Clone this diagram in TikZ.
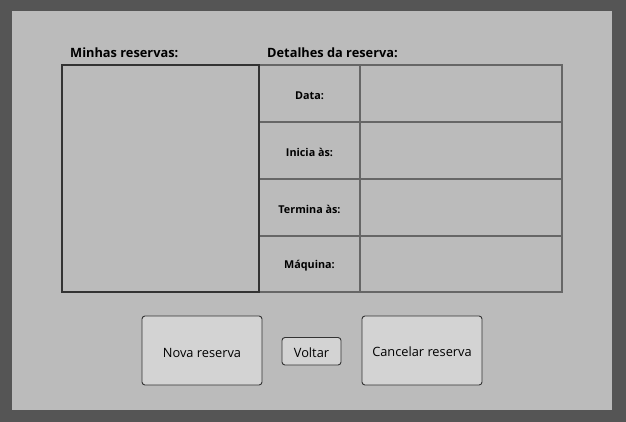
\documentclass[tikz,border=0pt]{standalone}
\usepackage{fontspec}
\setmainfont{Open Sans}
\definecolor{frame}{HTML}{555555}
\definecolor{panel}{HTML}{BBBBBB}
\definecolor{btnfill}{HTML}{D3D3D3}
\definecolor{gridln}{HTML}{666666}
\definecolor{darkln}{HTML}{333333}
\tikzset{
  heading/.style={anchor=base west, inner sep=0pt, font=\fontsize{12.8}{14}\selectfont\bfseries},
  celllabel/.style={inner sep=0pt, font=\fontsize{10.8}{12}\selectfont\bfseries},
  cellbox/.style={draw=gridln, line width=1.4pt},
  btn/.style={draw=darkln, fill=btnfill, rounded corners=3pt, line width=0.9pt},
  btntext/.style={inner sep=0pt, font=\fontsize{12.8}{14}\selectfont}
}
\begin{document}
\begin{tikzpicture}[x=1pt,y=-1pt]
\useasboundingbox (0,0) rectangle (626,422);
\fill[frame] (0,0) rectangle (626,422);
\fill[panel] (12,11) rectangle (612,410);
% headings
\node[heading] (hmin) at (70,57.5) {Minhas reservas:};
\node[heading] (hdet) at (267,57.5) {Detalhes da reserva:};
% table grid
\draw[cellbox] (259,65) rectangle (562,292);
\draw[cellbox] (360,65) -- (360,292);
\draw[cellbox] (259,122) -- (562,122);
\draw[cellbox] (259,179) -- (562,179);
\draw[cellbox] (259,236) -- (562,236);
% list box
\draw[draw=darkln, line width=1.4pt] (62,65) rectangle (259,292);
% cell labels
\node[celllabel] (ldata) at (309.5,95.5) {Data:};
\node[celllabel] (linic) at (309.5,152.5) {Inicia às:};
\node[celllabel] (lterm) at (309.5,209.5) {Termina às:};
\node[celllabel] (lmaq) at (309.5,266) {Máquina:};
% buttons
\draw[btn] (142,316) rectangle (262,385);
\node[btntext] (bnova) at (202,352.5) {Nova reserva};
\draw[btn] (282,337.5) rectangle (341,365);
\node[btntext] (bvolt) at (311.5,352.5) {Voltar};
\draw[btn] (362,316) rectangle (482,385);
\node[btntext] (bcanc) at (422,352) {Cancelar reserva};
\end{tikzpicture}
\end{document}
